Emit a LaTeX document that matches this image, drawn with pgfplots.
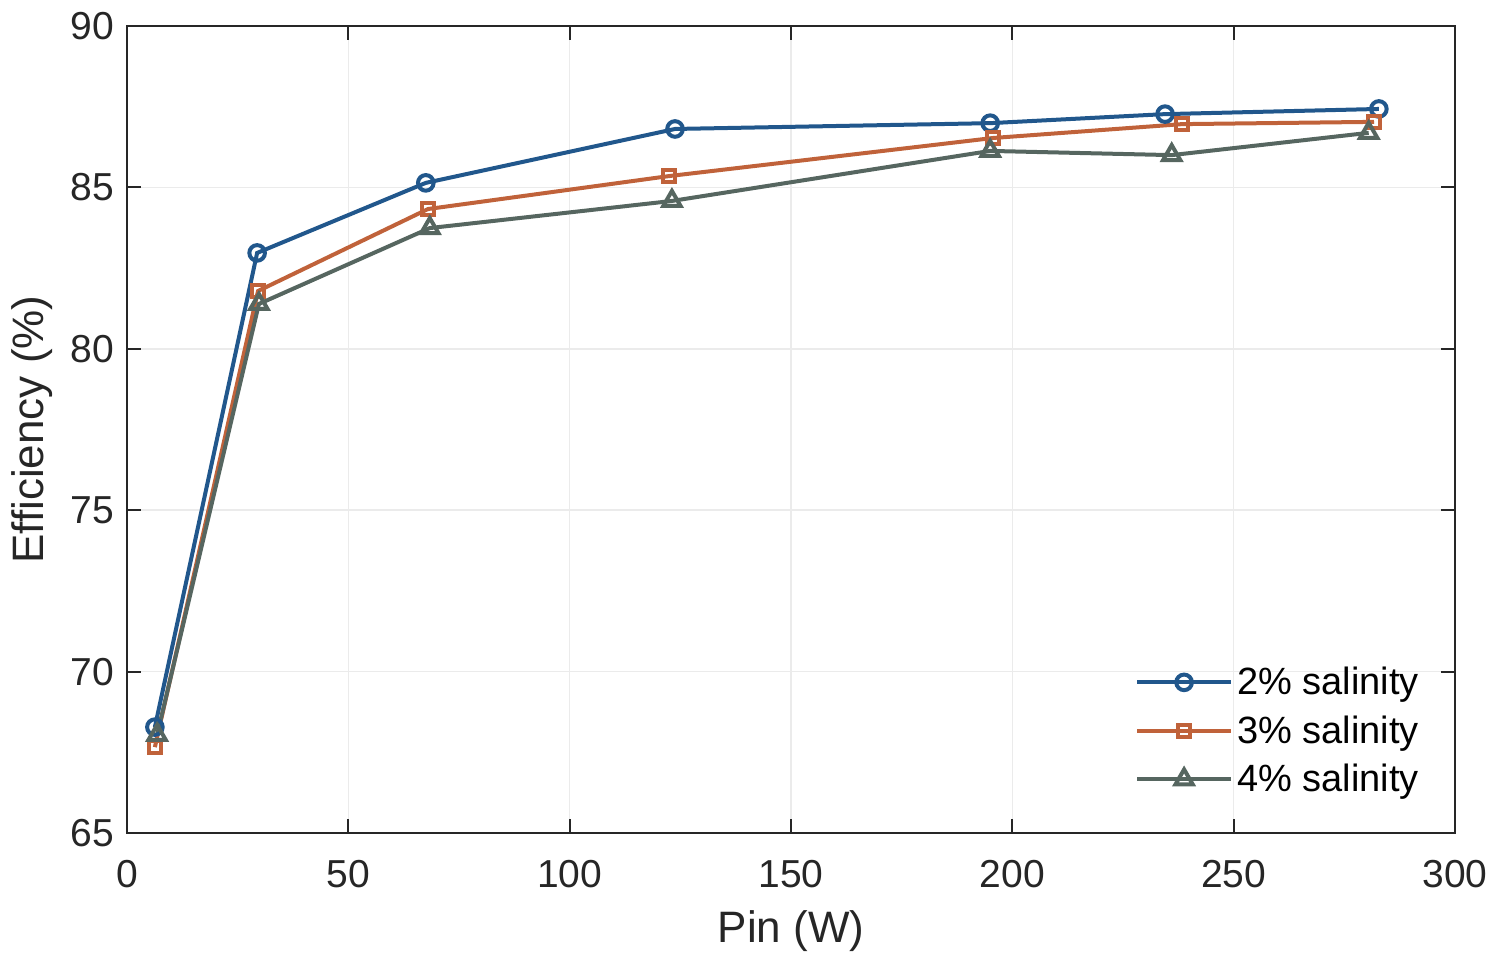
\documentclass[border=0pt]{standalone}
\usepackage{fontspec}
\setmainfont{Liberation Sans}
\usepackage{pgfplots}
\pgfplotsset{compat=1.18}
\definecolor{cblue}{RGB}{33,87,140}
\definecolor{corange}{RGB}{192,98,58}
\definecolor{cgray}{RGB}{86,102,96}
\definecolor{axcol}{RGB}{38,38,38}
\definecolor{gridc}{RGB}{235,235,235}
\begin{document}
\begin{tikzpicture}
\begin{axis}[
  scale only axis,
  width=664pt, height=403.5pt,
  xmin=0, xmax=300, ymin=65, ymax=90,
  xtick={0,50,...,300}, ytick={65,70,...,90},
  /pgf/number format/assume math mode=true,
  tick label style={font=\fontsize{19.5}{23}\selectfont, text=axcol},
  label style={font=\fontsize{22}{26}\selectfont, text=axcol},
  xlabel={Pin (W)}, ylabel={Efficiency (\%)},
  xticklabel style={yshift=-10pt},
  yticklabel style={xshift=-3pt},
  xlabel style={yshift=-4.8pt},
  ylabel style={yshift=2pt},
  axis line style={axcol, line width=1pt},
  tick style={axcol, line width=1pt},
  major tick length=7pt,
  tick align=inside,
  grid=major,
  major grid style={gridc, line width=0.8pt},
  legend style={at={(0.976,0.042)}, anchor=south east, draw=none, fill=none,
    font=\fontsize{19}{22}\selectfont, inner sep=0pt, row sep=5pt,
    /tikz/every even column/.append style={column sep=0pt}},
  legend cell align=left,
  legend image code/.code={\draw[mark repeat=2,mark phase=2] plot coordinates {(0pt,0pt)(23.5pt,0pt)(47pt,0pt)};},
  every axis plot/.append style={line width=2pt, mark options={solid, fill=white, line width=2pt}},
]
\addplot[cblue, mark=o, mark size=3.9pt] coordinates {
(6.3,68.28) (29.4,82.97) (67.5,85.14) (123.8,86.81) (195,86.99) (234.5,87.27) (282.8,87.43)};
\addlegendentry{2\% salinity}
\addplot[corange, mark=square, mark size=3.1pt] coordinates {
(6.3,67.66) (29.6,81.79) (68.0,84.33) (122.4,85.35) (195.6,86.53) (238.3,86.96) (281.7,87.03)};
\addlegendentry{3\% salinity}
\addplot[cgray, mark=triangle, mark size=5pt] coordinates {
(6.8,68.04) (29.8,81.39) (68.4,83.74) (123.1,84.58) (195,86.13) (236,86.0) (280.5,86.69)};
\addlegendentry{4\% salinity}
\end{axis}
\pgfresetboundingbox
\path ([shift={(-63.5pt,-68.5pt)}]current axis.south west) rectangle ([shift={(21.5pt,13pt)}]current axis.north east);
\end{tikzpicture}
\end{document}
